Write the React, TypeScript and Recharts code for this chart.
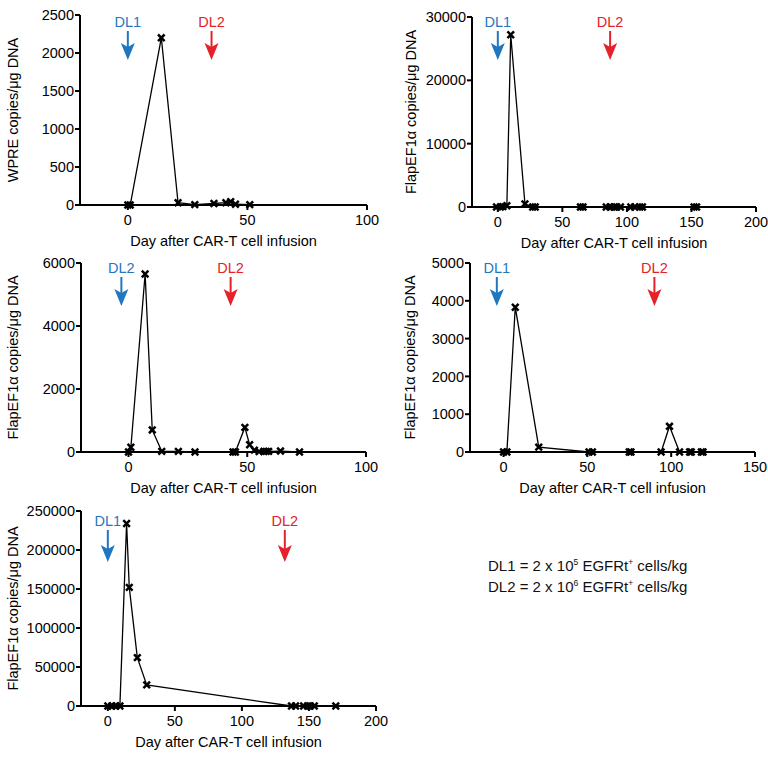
import { LineChart, Line, XAxis, YAxis, ReferenceDot } from "recharts"

const FONT = "'Liberation Sans', Arial, Helvetica, sans-serif"
const BLUE = "#1f77c0"
const RED = "#e52129"
const X_TITLE = "Day after CAR-T cell infusion"

// patient 1 (WPRE)
const p1Days = [0, 1, 14, 21, 28, 36, 41, 43, 45, 51]
const p1Copies = [0, 0, 2200, 30, 5, 20, 30, 45, 10, 5]
const p1YTicks = [0, 500, 1000, 1500, 2000, 2500]
const p1XTicks = [0, 50, 100]

// patient 2
const p2Days = [-1, 2, 4, 7, 10, 21, 27, 29, 64, 66, 84, 87, 90, 92, 95, 103, 106, 110, 112, 152, 154]
const p2Copies = [0, 0, 50, 200, 27200, 500, 0, 0, 0, 0, 0, 0, 0, 0, 0, 0, 0, 0, 0, 0, 0]
const p2YTicks = [0, 10000, 20000, 30000]
const p2XTicks = [0, 50, 100, 150, 200]

// patient 3
const p3Days = [0, 1, 7, 10, 14, 21, 28, 44, 45, 49, 51, 53, 55, 57, 58, 59, 64, 72]
const p3Copies = [0, 150, 5650, 700, 20, 20, 0, 0, 0, 780, 230, 60, 10, 20, 20, 20, 30, 0]
const p3YTicks = [0, 2000, 4000, 6000]
const p3XTicks = [0, 50, 100]

// patient 4
const p4Days = [0, 2, 7, 21, 51, 53, 75, 76, 94, 99, 105, 111, 112, 118, 119]
const p4Copies = [0, 0, 3830, 130, 0, 0, 0, 0, 0, 680, 0, 0, 0, 0, 0]
const p4YTicks = [0, 1000, 2000, 3000, 4000, 5000]
const p4XTicks = [0, 50, 100, 150]

// patient 5
const p5Days = [0, 3, 6, 9, 14, 16, 22, 29, 137, 140, 146, 149, 151, 154, 170]
const p5Copies = [0, 0, 0, 0, 234000, 152000, 62000, 27000, 0, 0, 0, 0, 0, 0, 0]
const p5YTicks = [0, 50000, 100000, 150000, 200000, 250000]
const p5XTicks = [0, 50, 100, 150, 200]

const XMark = (props: any) => {
  const { cx, cy, index } = props
  if (cx == null || cy == null) return <g key={index} />
  const s = 3.3
  return (
    <path
      key={index}
      d={`M${cx - s},${cy - s}L${cx + s},${cy + s}M${cx - s},${cy + s}L${cx + s},${cy - s}`}
      stroke="#000"
      strokeWidth={2.5}
    />
  )
}

const Arrow = (props: any) => {
  const { cx, cy, color, text, dy = 0, long = 0 } = props
  if (cx == null || cy == null) return null
  const y0 = cy + dy
  return (
    <g>
      <text
        x={cx}
        y={y0 + 6}
        fill={color}
        fontSize={14.5}
        fontFamily={FONT}
        textAnchor="middle"
        dominantBaseline="central"
      >
        {text}
      </text>
      <line x1={cx} x2={cx} y1={y0 + 15} y2={y0 + 32 + long} stroke={color} strokeWidth={2} />
      <path
        d={`M${cx - 7},${y0 + 27 + long}L${cx},${y0 + 31 + long}L${cx + 7},${y0 + 27 + long}L${cx},${y0 + 44 + long}Z`}
        fill={color}
      />
    </g>
  )
}

const YTitle = (props: any) => {
  const { x, y, text } = props
  return (
    <text
      x={x}
      y={y}
      transform={`rotate(-90, ${x}, ${y})`}
      textAnchor="middle"
      dominantBaseline="central"
      fontSize={14.5}
      fontFamily={FONT}
      fill="#000"
    >
      {text}
    </text>
  )
}

const XTitle = (props: any) => {
  const { viewBox } = props
  return (
    <text
      x={viewBox.x + viewBox.width / 2}
      y={viewBox.y + 36}
      textAnchor="middle"
      dominantBaseline="central"
      fontSize={14.5}
      fontFamily={FONT}
      fill="#000"
    >
      {X_TITLE}
    </text>
  )
}

type PanelProps = {
  days: number[]
  copies: number[]
  xMax: number
  yTicks: number[]
  xTicks: number[]
  yTitle: string
  titleOffset: number
  left: number
  top: number
  w: number
  h: number
  arrows: { x: number; color: string; text: string }[]
  arrowDy: number
  arrowLong?: number
}

const Panel = (p: PanelProps) => {
  const data = p.days.map((d, i) => ({ day: d, v: p.copies[i] }))
  const yMax = p.yTicks[p.yTicks.length - 1]
  const tickStyle = { fill: "#000", fontSize: 14.5, fontFamily: FONT }
  return (
    <div style={{ position: "absolute", left: p.left - 80, top: p.top - 15 }}>
      <LineChart
        width={80 + p.w + 15}
        height={15 + p.h + 45}
        data={data}
        margin={{ top: 15, right: 15, left: 0, bottom: 0 }}
      >
        <XAxis
          dataKey="day"
          type="number"
          domain={[-20, p.xMax]}
          ticks={p.xTicks}
          allowDataOverflow
          height={45}
          axisLine={{ stroke: "#000", strokeWidth: 2 }}
          tickLine={{ stroke: "#000", strokeWidth: 2 }}
          tickSize={5}
          tickMargin={5}
          tick={tickStyle}
          label={<XTitle />}
        />
        <YAxis
          type="number"
          domain={[0, yMax]}
          ticks={p.yTicks}
          width={80}
          axisLine={{ stroke: "#000", strokeWidth: 2 }}
          tickLine={{ stroke: "#000", strokeWidth: 2 }}
          tickSize={5}
          tickMargin={1}
          tick={tickStyle}
        />
        <Line
          dataKey="v"
          type="linear"
          stroke="#000"
          strokeWidth={1.3}
          dot={<XMark />}
          activeDot={false}
          isAnimationActive={false}
        />
        {p.arrows.map((a) => (
          <ReferenceDot
            key={a.text + a.x}
            x={a.x}
            y={yMax}
            r={0}
            ifOverflow="visible"
            shape={(sp: any) => (
              <Arrow {...sp} color={a.color} text={a.text} dy={p.arrowDy} long={p.arrowLong ?? 0} />
            )}
          />
        ))}
        <YTitle x={80 - p.titleOffset} y={15 + p.h / 2} text={p.yTitle} />
      </LineChart>
    </div>
  )
}

const FLAP = "FlapEF1\u03b1 copies/\u03bcg DNA"

const supStyle = { fontSize: 8.5, position: "relative" as const, top: -6, lineHeight: 0 }

export default function App() {
  return (
    <div
      style={{
        position: "absolute",
        left: 0,
        top: 0,
        width: 768,
        height: 759,
        background: "#fff",
        fontFamily: FONT,
      }}
    >
      <Panel
        days={p1Days}
        copies={p1Copies}
        xMax={100}
        yTicks={p1YTicks}
        xTicks={p1XTicks}
        yTitle={"WPRE copies/\u03bcg DNA"}
        titleOffset={67}
        left={80}
        top={15}
        w={287}
        h={190}
        arrows={[
          { x: 0, color: BLUE, text: "DL1" },
          { x: 35, color: RED, text: "DL2" },
        ]}
        arrowDy={1}
      />
      <Panel
        days={p2Days}
        copies={p2Copies}
        xMax={200}
        yTicks={p2YTicks}
        xTicks={p2XTicks}
        yTitle={FLAP}
        titleOffset={61}
        left={472}
        top={17}
        w={284}
        h={190}
        arrows={[
          { x: 0, color: BLUE, text: "DL1" },
          { x: 87, color: RED, text: "DL2" },
        ]}
        arrowDy={-1}
      />
      <Panel
        days={p3Days}
        copies={p3Copies}
        xMax={100}
        yTicks={p3YTicks}
        xTicks={p3XTicks}
        yTitle={FLAP}
        titleOffset={68}
        left={81}
        top={263}
        w={285}
        h={189}
        arrows={[
          { x: -3, color: BLUE, text: "DL2" },
          { x: 43, color: RED, text: "DL2" },
        ]}
        arrowDy={-1}
      />
      <Panel
        days={p4Days}
        copies={p4Copies}
        xMax={150}
        yTicks={p4YTicks}
        xTicks={p4XTicks}
        yTitle={FLAP}
        titleOffset={60}
        left={470}
        top={263}
        w={285}
        h={189}
        arrows={[
          { x: -4, color: BLUE, text: "DL1" },
          { x: 90, color: RED, text: "DL2" },
        ]}
        arrowDy={-1}
      />
      <Panel
        days={p5Days}
        copies={p5Copies}
        xMax={200}
        yTicks={p5YTicks}
        xTicks={p5XTicks}
        yTitle={FLAP}
        titleOffset={68}
        left={81}
        top={511}
        w={295}
        h={195}
        arrows={[
          { x: 0, color: BLUE, text: "DL1" },
          { x: 132, color: RED, text: "DL2" },
        ]}
        arrowDy={4}
        arrowLong={3}
      />
      <div
        style={{
          position: "absolute",
          left: 488,
          top: 555,
          fontSize: 15,
          lineHeight: "21px",
          color: "#111",
          whiteSpace: "nowrap",
        }}
      >
        <div>
          DL1 = 2 x 10<span style={supStyle}>5</span> EGFRt<span style={supStyle}>+</span> cells/kg
        </div>
        <div>
          DL2 = 2 x 10<span style={supStyle}>6</span> EGFRt<span style={supStyle}>+</span> cells/kg
        </div>
      </div>
    </div>
  )
}
